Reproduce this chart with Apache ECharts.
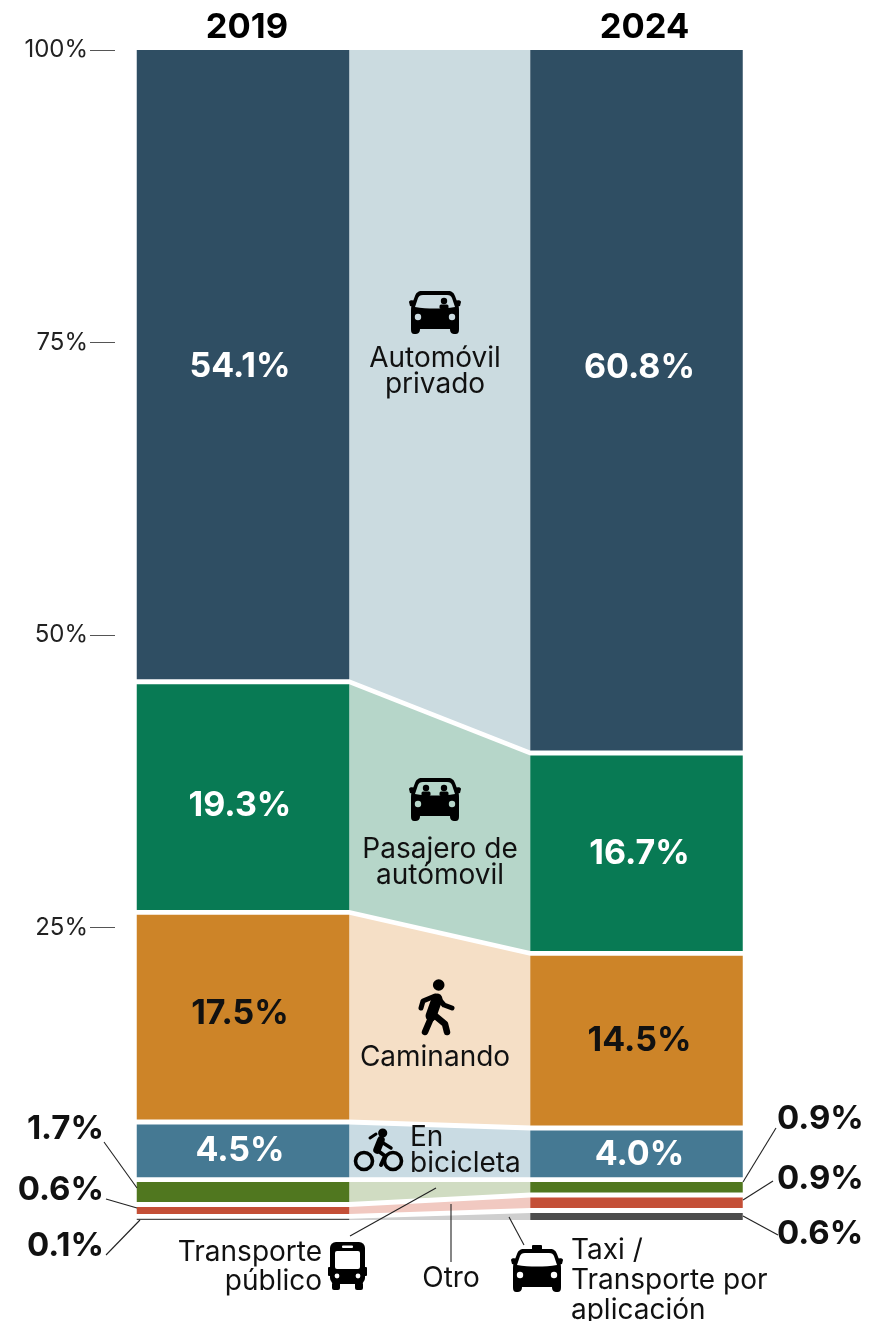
<!DOCTYPE html>
<html><head><meta charset="utf-8">
<style>html,body{margin:0;padding:0;background:#fff}#c{width:880px;height:1321px}</style>
<script src="https://cdn.jsdelivr.net/npm/echarts@6/dist/echarts.min.js"></script>
</head><body><div id="c"></div>
<script>
var years = ['2019', '2024'];
var ticks = [25, 50, 75, 100];
var names = ['Taxi / Transporte por aplicación', 'Otro', 'Transporte público', 'En bicicleta', 'Caminando', 'Pasajero de automóvil', 'Automóvil privado'];
var v2019 = [0.1, 0.6, 1.7, 4.5, 17.5, 19.3, 54.1];
var v2024 = [0.6, 0.9, 0.9, 4.0, 14.5, 16.7, 60.8];
var spacer = 0.42;
var colors = ['#4d4d4d', '#c44f37', '#50771f', '#457993', '#cd8428', '#087a54', '#2f4e63'];
var lights = ['#cfcfcf', '#f1c9c1', '#d0dcc2', '#c9dbe3', '#f5dfc6', '#b6d6c9', '#cbdbe0'];
var labelColors = [null, null, null, '#fff', '#111', '#fff', '#fff'];

var FONT = 'Inter, "Open Sans", sans-serif';
var BAR_W = 212.5;
function pct(v) { return v.toFixed(1) + '%'; }

// vertical label nudges, px, per mode per column
var nudge19 = [0, 0, 0, 0, -3, 9, 2];
var nudge24 = [0, 0, 0, 1, 0, 1, -33];

var series = [];
names.forEach(function (n, i) {
  series.push({
    type: 'bar', name: n, stack: 's', barWidth: BAR_W, z: 3,
    data: [
      { value: v2019[i], label: { offset: [-3, nudge19[i]] } },
      { value: v2024[i], label: { offset: [3, nudge24[i]] } }
    ],
    itemStyle: { color: colors[i] },
    label: {
      show: !!labelColors[i], position: 'inside', color: labelColors[i] || '#fff',
      fontFamily: FONT, fontWeight: 700, fontSize: 34,
      formatter: function (p) { return pct(p.value); }
    },
    emphasis: { disabled: true }
  });
  if (i < names.length - 1) {
    series.push({
      type: 'bar', name: 'sep' + i, stack: 's', barWidth: BAR_W, silent: true,
      data: [spacer, spacer], itemStyle: { color: 'transparent' }, emphasis: { disabled: true }
    });
  }
});

function flowRows() {
  var rows = [], a = 0, b = 0;
  names.forEach(function (n, i) {
    rows.push([i, a, a + v2019[i], b, b + v2024[i]]);
    a += v2019[i] + spacer; b += v2024[i] + spacer;
  });
  return rows;
}
series.push({
  type: 'custom', name: 'flows', silent: true, z: 2,
  encode: { x: -1, y: [1, 2, 3, 4] },
  data: flowRows(),
  renderItem: function (params, api) {
    var x0 = api.coord([0, 0])[0] + BAR_W / 2, x1 = api.coord([1, 0])[0] - BAR_W / 2;
    var ya = api.coord([0, api.value(1)])[1], yb = api.coord([0, Math.min(api.value(2), 100)])[1];
    var yc = api.coord([0, api.value(3)])[1], yd = api.coord([0, Math.min(api.value(4), 100)])[1];
    return { type: 'polygon', shape: { points: [[x0, yb], [x1, yd], [x1, yc], [x0, ya]] },
      style: { fill: lights[api.value(0)] } };
  }
});

var INK = '#111';
function txt(x, y, s, opt) {
  opt = opt || {};
  return { type: 'text', z: 100, silent: true, x: x, y: y, style: {
    text: s, fill: opt.fill || INK, font: (opt.weight || 400) + ' ' + (opt.size || 28) + 'px ' + FONT,
    align: opt.align || 'center', verticalAlign: 'middle', lineHeight: opt.lh || 26 } };
}
function line(a, b, c, d) {
  return { type: 'line', z: 100, silent: true, shape: { x1: a, y1: b, x2: c, y2: d }, style: { stroke: '#222', lineWidth: 1.1 } };
}
function p(d, fill) { return { type: 'path', shape: { pathData: d }, style: { fill: fill || '#000' } }; }
function circ(x, y, r, fill) { return { type: 'circle', shape: { cx: x, cy: y, r: r }, style: { fill: fill } }; }
function rect(x, y, w, h, fill, rr) { return { type: 'rect', shape: { x: x, y: y, width: w, height: h, r: rr || 0 }, style: { fill: fill } }; }
function poly(pts, w) { return { type: 'polyline', shape: { points: pts }, style: { stroke: '#000', lineWidth: w, fill: null, lineCap: 'round', lineJoin: 'round' } }; }

function car(cx, cy, bg, people, taxi) {
  var ch = [
    p('M-13 -21 L13 -21 C17 -21 19 -19 20 -16 L23 -8 C24 -6 24 -3 24 0 L24 17 C24 21 23 22 20 22 C17 22 15 21 15 17 L-15 17 C-15 21 -17 22 -20 22 C-23 22 -24 21 -24 17 L-24 0 C-24 -3 -24 -6 -23 -8 L-20 -16 C-19 -19 -17 -21 -13 -21 Z'),
    p('M-26 -10 C-26 -12 -22 -12 -20 -11 L-20 -5 L-25 -6 Z'), p('M26 -10 C26 -12 22 -12 20 -11 L20 -5 L25 -6 Z'),
    p('M-12 -17 L12 -17 C15 -17 16 -16 17 -14 L20 -5 C8 -3 -8 -3 -20 -5 L-17 -14 C-16 -16 -15 -17 -12 -17 Z', bg),
    circ(-17, 5, 3.2, bg), circ(17, 5, 3.2, bg)
  ];
  people.forEach(function (x) {
    ch.push(circ(x, -11, 3.2, '#000'));
    ch.push(rect(x - 4.5, -7.5, 9, 4.5, '#000', 1.5));
  });
  if (taxi) ch.push(rect(-5, -25, 10, 5, '#000', 1));
  return { type: 'group', x: cx, y: cy, children: ch };
}
function wheel(x, y) { return { type: 'circle', shape: { cx: x, cy: y, r: 8.5 }, style: { stroke: '#000', lineWidth: 3.6, fill: null } }; }
function icons() {
  return { type: 'group', children: [
    car(435, 312, lights[6], [9], false),
    car(435, 799, lights[5], [-9, 9], false),
    { type: 'group', children: [
      circ(438.7, 985, 5.8, '#000'),
      poly([[437, 999], [431, 1016]], 11),
      poly([[435, 996], [423, 1001], [421, 1008]], 5),
      poly([[438, 998], [444, 1005], [452, 1008]], 5),
      poly([[431, 1018], [425, 1032]], 6.5),
      poly([[433, 1014], [445, 1024], [447, 1032]], 6.5)
    ]},
    { type: 'group', children: [
      wheel(364, 1161), wheel(393, 1161),
      circ(382.7, 1133, 4.6, '#000'),
      poly([[381, 1140], [377, 1150]], 7.5),
      poly([[377, 1150], [385, 1156], [381, 1165]], 4),
      poly([[380, 1141], [391, 1148]], 3.4),
      poly([[376, 1134], [370, 1138]], 3)
    ]},
    { type: 'group', children: [
      rect(330, 1242, 35, 42, '#000', 6),
      rect(335, 1251, 25, 18, '#fff', 2),
      rect(342, 1245.5, 11, 2.5, '#fff', 1),
      circ(337, 1276, 2.4, '#fff'), circ(358, 1276, 2.4, '#fff'),
      rect(332, 1282, 8, 8, '#000', 2), rect(355, 1282, 8, 8, '#000', 2),
      rect(328, 1267, 3, 9, '#000', 1), rect(364, 1267, 3, 9, '#000', 1)
    ]},
    car(537, 1270, '#fff', [], true)
  ]};
}
series.push({
  type: 'custom', name: 'icons', silent: true, z: 50, coordinateSystem: 'none',
  data: [0], renderItem: icons, clip: false
});

var graphics = [
  txt(435, 372, 'Automóvil\nprivado'),
  txt(440, 863, 'Pasajero de\nautómovil'),
  txt(435, 1058, 'Caminando'),
  txt(410, 1151, 'En\nbicicleta', { align: 'left' }),
  txt(322, 1267, 'Transporte\npúblico', { align: 'right', lh: 29 }),
  txt(451, 1279, 'Otro'),
  txt(571, 1281, 'Taxi /\nTransporte por\naplicación', { align: 'left', lh: 30 }),
  txt(104, 1129, pct(v2019[2]), { align: 'right', weight: 700, size: 33 }),
  txt(104, 1190, pct(v2019[1]), { align: 'right', weight: 700, size: 33 }),
  txt(104, 1246, pct(v2019[0]), { align: 'right', weight: 700, size: 33 }),
  txt(777, 1119, pct(v2024[2]), { align: 'left', weight: 700, size: 33 }),
  txt(777, 1179, pct(v2024[1]), { align: 'left', weight: 700, size: 33 }),
  txt(777, 1234, pct(v2024[0]), { align: 'left', weight: 700, size: 33 }),
  line(104, 1142, 137, 1188), line(106, 1199, 137, 1208), line(106, 1255, 140, 1220),
  line(350, 1236, 436, 1188), line(451, 1204, 451, 1262), line(509, 1217, 524, 1245),
  line(776, 1128, 743, 1182), line(773, 1181, 743, 1200), line(743, 1216, 778, 1235)
];

var chart = echarts.init(document.getElementById('c'), null, { renderer: 'canvas' });
chart.setOption({
  animation: false,
  backgroundColor: '#fff',
  tooltip: { show: false },
  grid: { left: 46.25, width: 787, top: 50, height: 1170 },
  xAxis: {
    type: 'category', data: years, position: 'top',
    axisLine: { show: false }, axisTick: { show: false },
    axisLabel: {
      interval: 0, margin: 5, color: '#000', fontFamily: FONT,
      formatter: function (v) { return v === '2019' ? '{a|' + v + '}' : '{b|' + v + '}'; },
      rich: {
        a: { fontFamily: FONT, fontWeight: 700, fontSize: 34.5, color: '#000', padding: [0, 0, 0, 8] },
        b: { fontFamily: FONT, fontWeight: 700, fontSize: 34.5, color: '#000', padding: [0, 0, 0, 16] }
      }
    }
  },
  yAxis: {
    type: 'value', min: 0, max: 100, interval: 25, offset: -68.75,
    axisLine: { show: false },
    axisTick: { show: true, length: 25, customValues: ticks, lineStyle: { color: '#555', width: 1 } },
    splitLine: { show: false },
    axisLabel: { margin: 27, padding: [3, 0, 0, 0], customValues: ticks, color: '#222', fontFamily: FONT, fontSize: 24, formatter: '{value}%' }
  },
  series: series,
  graphic: graphics
});
</script></body></html>
